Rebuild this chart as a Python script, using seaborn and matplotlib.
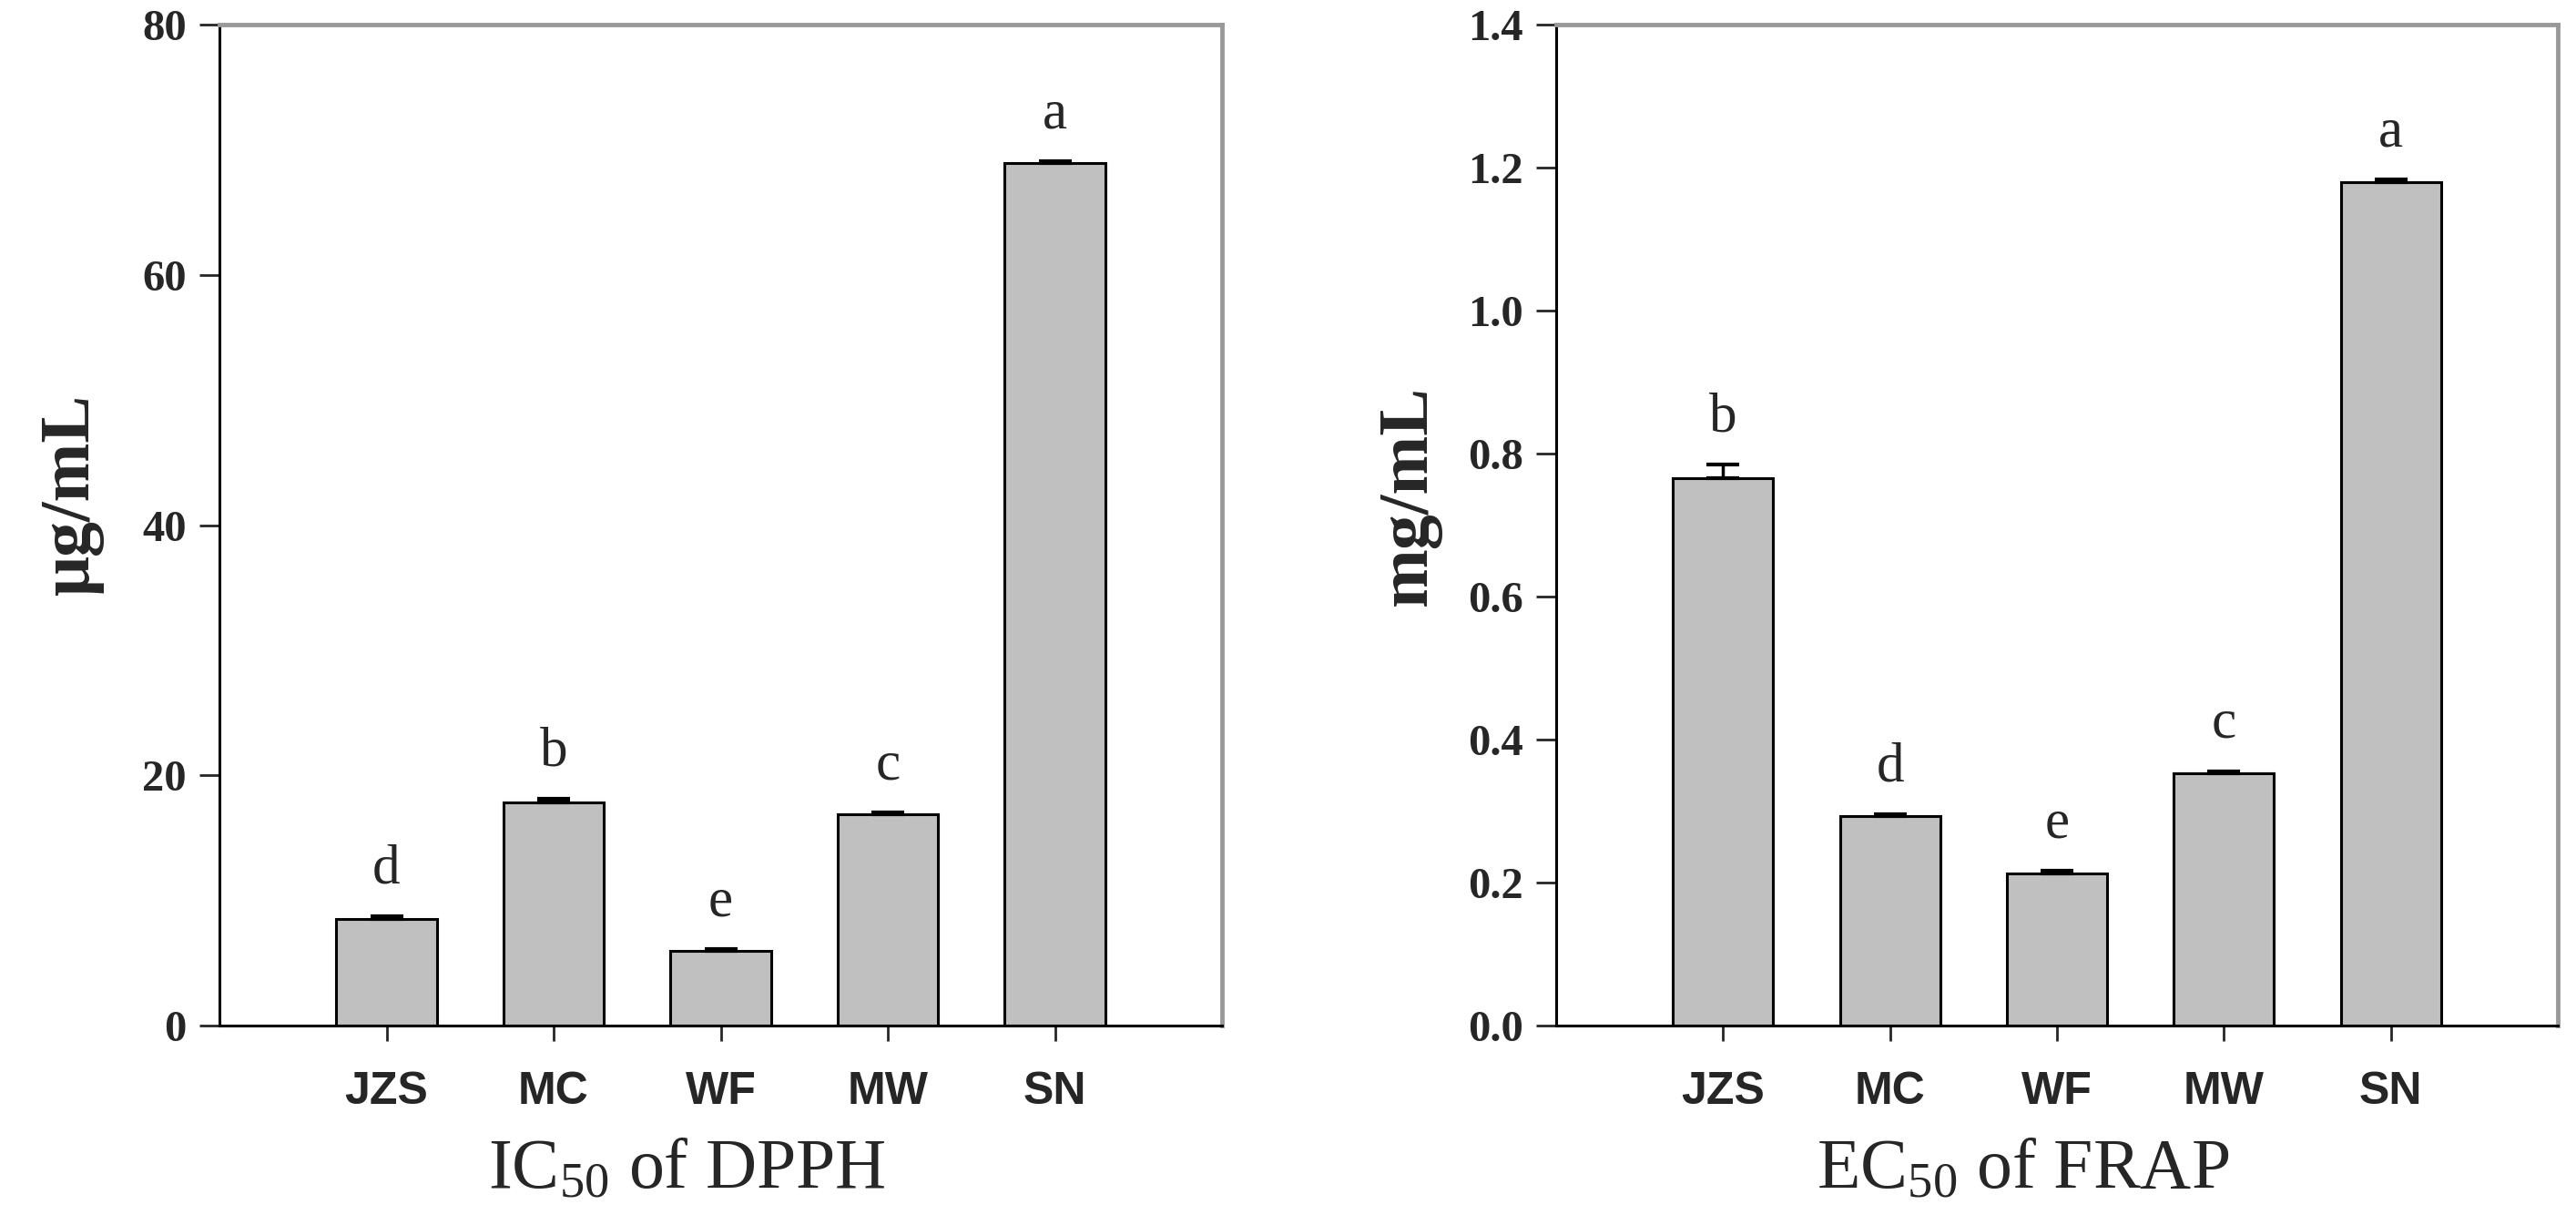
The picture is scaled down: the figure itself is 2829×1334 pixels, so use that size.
import numpy as np
import pandas as pd
import seaborn as sns
import matplotlib.pyplot as plt

# Data
samples = ["JZS", "MC", "WF", "MW", "SN"]

dpph_ic50 = [8.5, 17.8, 6.0, 16.9, 68.9]
dpph_err = [0.2, 0.3, 0.1, 0.1, 0.2]
dpph_letters = ["d", "b", "e", "c", "a"]

frap_ec50 = [0.765, 0.293, 0.213, 0.353, 1.18]
frap_err = [0.02, 0.003, 0.003, 0.003, 0.003]
frap_letters = ["b", "d", "e", "c", "a"]

dpph_ticks = [0, 20, 40, 60, 80]
frap_ticks = [0.0, 0.2, 0.4, 0.6, 0.8, 1.0, 1.2, 1.4]

sns.set_style("ticks")
plt.rcParams["font.family"] = ["Liberation Serif", "DejaVu Serif"]
plt.rcParams["mathtext.default"] = "regular"

fig = plt.figure(figsize=(28.29, 13.34), dpi=100)
ax1 = fig.add_axes([241 / 2829, 208 / 1334, 1101 / 2829, 1099 / 1334])
ax2 = fig.add_axes([1709 / 2829, 208 / 1334, 1100 / 2829, 1099 / 1334])


def panel(ax, vals, errs, letters, ticks, ylabel, xlabel, fmt):
    df = pd.DataFrame({"sample": samples, "value": vals})
    sns.barplot(data=df, x="sample", y="value", color="#c0c0c0", saturation=1,
                edgecolor="black", linewidth=2.2, width=0.6, errorbar=None, ax=ax)
    pos = np.arange(len(samples))
    # upper error bars only
    ax.errorbar(pos, vals, yerr=[np.zeros(len(errs)), errs], fmt="none",
                ecolor="black", elinewidth=2.5, capsize=13, capthick=3)
    for x, v, e, t in zip(pos, vals, errs, letters):
        ax.annotate(t, (x, v + e), xytext=(0, 17), textcoords="offset points",
                    ha="center", va="bottom", fontsize=44,
                    family="Liberation Serif")
    ax.set_xlim(-1, 5)
    ax.set_ylim(ticks[0], ticks[-1])
    ax.set_yticks(ticks)
    ax.set_yticklabels([fmt.format(t) for t in ticks], fontsize=35,
                       fontweight="bold", family="Liberation Serif")
    ax.set_xticks(pos)
    ax.set_xticklabels(samples, fontsize=36, fontweight="bold",
                       family="Liberation Sans")
    ax.tick_params(axis="y", direction="out", length=16, width=2, pad=10)
    ax.tick_params(axis="x", direction="out", length=12, width=2, pad=24)
    ax.set_ylabel(ylabel, fontsize=56, fontweight="bold",
                  family="Liberation Serif")
    ax.yaxis.set_label_coords(-0.115, 0.53)
    ax.set_xlabel(xlabel, fontsize=56, family="Liberation Serif")
    ax.xaxis.set_label_coords(0.466, -0.112)
    for s in ["left", "bottom"]:
        ax.spines[s].set_color("black")
        ax.spines[s].set_linewidth(2.2)
    for s in ["top", "right"]:
        ax.spines[s].set_visible(True)
        ax.spines[s].set_color("#999999")
        ax.spines[s].set_linewidth(3.5)


panel(ax1, dpph_ic50, dpph_err, dpph_letters, dpph_ticks,
      "μg/mL", "$\\mathregular{IC_{50}}$ of DPPH", "{:.0f}")
panel(ax2, frap_ec50, frap_err, frap_letters, frap_ticks,
      "mg/mL", "$\\mathregular{EC_{50}}$ of FRAP", "{:.1f}")

fig.savefig("out.png", dpi=100, facecolor="white")
